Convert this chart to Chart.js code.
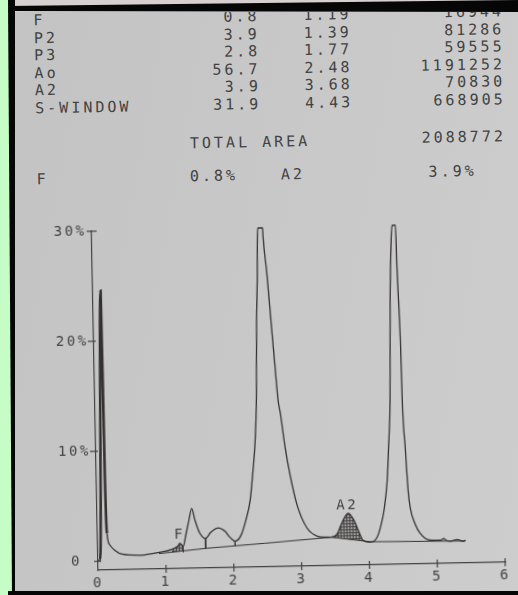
<!DOCTYPE html>
<html><head><meta charset="utf-8">
<script src="https://cdn.jsdelivr.net/npm/chart.js@4.4.0/dist/chart.umd.min.js"></script>
<style>
html,body{margin:0;padding:0;width:518px;height:595px;overflow:hidden;background:#c8c8c8;}
#paper{position:absolute;left:0;top:0;width:518px;height:595px;background:linear-gradient(100deg,#c3c3c3 0%,#c8c8c8 50%,#cdcdcd 100%);}
#rot{position:absolute;left:0;top:0;width:518px;height:595px;transform:rotate(-1.12deg);transform-origin:259px 300px;}
#chart{position:absolute;left:0;top:0;}
.t{position:absolute;font-family:"DejaVu Sans Mono",monospace;font-size:15px;letter-spacing:3px;color:#424242;line-height:15px;white-space:pre;}
.frame{position:absolute;background:#060606;}
</style></head>
<body>
<div id="paper"></div>
<div id="rot"><div id="header"></div><canvas id="chart" width="518" height="595"></canvas></div>
<div style="position:absolute;left:8px;top:0;width:510px;height:12px;background:#d6d0d0;"></div>
<div class="frame" style="left:8px;top:0;width:510px;height:12px;clip-path:polygon(0 6px,100% 0,100% 12px,0 11px);"></div>
<div style="position:absolute;left:0;top:0;width:12px;height:595px;background:#c6fcc6;"></div>
<div class="frame" style="left:8px;top:0;width:7px;height:595px;clip-path:polygon(0 0,100% 0,100% 100%,4px 100%);"></div>
<div class="frame" style="left:8px;top:591px;width:510px;height:4px;"></div>
<script>
// ---- report table ----
const peakNames = ['F','P2','P3','Ao','A2','S-WINDOW'];
const peakPercent = ['0.8','3.9','2.8','56.7','3.9','31.9'];
const retentionTimes = ['1.19','1.39','1.77','2.48','3.68','4.43'];
const peakAreas = ['16944','81286','59555','1191252','70830','668905'];
const totalAreaLabel = 'TOTAL AREA';
const totalArea = '2088772';
const summaryNames = ['F','A2'];
const summaryValues = ['0.8%','3.9%'];

// ---- chromatogram trace (time in min, signal in %) ----
const traceTime = [0,0.03,0.115,0.122,0.125,0.139,0.18,0.25,0.355,0.62,0.84,0.99,1.09,1.18,1.21,1.26,1.30,1.35,1.395,1.44,1.50,1.59,1.67,1.78,1.88,1.95,2.025,2.115,2.19,2.26,2.31,2.35,2.38,2.405,2.43,2.44,2.45,2.52,2.525,2.57,2.63,2.665,2.70,2.73,2.79,2.855,2.95,3.09,3.24,3.38,3.44,3.53,3.61,3.70,3.79,3.86,3.91,4.02,4.12,4.18,4.23,4.285,4.315,4.35,4.38,4.41,4.43,4.48,4.49,4.52,4.53,4.56,4.59,4.615,4.685,4.755,4.90,5.05,5.10,5.15,5.20,5.30,5.34,5.38,5.42];
const traceSignal = [0.1,0.1,24.6,14.6,7.4,2.55,1.45,0.98,0.61,0.48,0.64,0.80,0.97,1.24,1.5,1.23,2.22,3.58,4.64,3.57,2.47,1.88,2.45,2.83,2.51,1.96,1.59,2.12,3.48,5.29,8.0,10.7,14.4,21.4,25.9,28.9,30.0,30.0,29.2,25.9,20.4,17.3,14.3,13.1,10.0,7.5,4.75,2.65,1.9,1.79,1.78,2.05,3.13,3.94,3.2,2.1,1.45,1.26,1.7,2.78,4.15,6.86,9.86,14.1,23.2,28.4,30.0,30.0,26.2,19.3,14.1,9.83,5.92,4.37,2.82,1.99,1.34,1.32,1.45,1.25,1.21,1.35,1.28,1.18,1.27];

// integration baseline
const baselineTime = [0.90,1.61,2.47,3.44,4.02,5.42];
const baselineSignal = [0.60,1.00,1.35,1.78,1.30,1.20];

// peak drop lines
const dropTime = [1.26,1.59,2.025];
const dropTop = [1.23,1.88,1.59];
const dropBottom = [0.69,0.99,1.17];

// shaded peaks
const shadedStart = [1.09,3.44];
const shadedEnd = [1.26,4.02];

// peak labels on plot
const peakLabelText = ['F','A2'];
const peakLabelTime = [1.19,3.67];
const peakLabelSignal = [2.25,4.66];

// axes
const xTickValues = [0,1,2,3,4,5,6];
const yTickValues = [0,10,20,30];

// ---- header (HTML text) ----
const header = document.getElementById('header');
function addText(txt, css){ const d=document.createElement('div'); d.className='t'; d.textContent=txt; Object.assign(d.style, css); header.appendChild(d); }
const rowCenters = [16.5,34,51.5,69,86.5,104];
peakNames.forEach((n,i)=>{
  const top = (rowCenters[i]-7.5)+'px';
  addText(n,{left:'39px',top});
  addText(peakPercent[i],{right:'253px',top,textAlign:'right'});
  addText(retentionTimes[i],{right:'161px',top,textAlign:'right'});
  addText(peakAreas[i],{right:'8.5px',top,textAlign:'right'});
});
addText(totalAreaLabel,{left:'193px',top:'134.5px'});
addText(totalArea,{right:'9px',top:'133.5px',textAlign:'right'});
addText(summaryNames[0],{left:'39px',top:'168.2px'});
addText(summaryValues[0],{left:'192.3px',top:'168.2px'});
addText(summaryNames[1],{left:'283.4px',top:'168.2px'});
addText(summaryValues[1],{left:'431px',top:'168.2px'});

// ---- chart ----
const ink = '#353131';
const axisInk = '#444141';
const textInk = '#424242';
const FONT = '"DejaVu Sans Mono", monospace';

function hatch(){
  const c=document.createElement('canvas'); c.width=3; c.height=3;
  const g=c.getContext('2d');
  g.fillStyle='rgba(150,150,150,0.9)'; g.fillRect(0,0,3,3);
  g.fillStyle='#4a4646'; g.fillRect(0,0,3,1); g.fillRect(0,0,1,3);
  return g.createPattern(c,'repeat');
}
const pattern = hatch();

const trace = traceTime.map((t,i)=>({x:t,y:traceSignal[i]}));
const baseline = baselineTime.map((t,i)=>({x:t,y:baselineSignal[i]}));
const drops = [];
dropTime.forEach((t,i)=>{ drops.push({x:t,y:dropTop[i]},{x:t,y:dropBottom[i]},{x:t,y:null}); });
const shaded = shadedStart.map((s,i)=>trace.filter(p=>p.x>=s && p.x<=shadedEnd[i]));

const printer = {
  id:'printer',
  beforeDraw(chart){ chart.ctx.letterSpacing='2.6px'; },
  afterDraw(chart){
    const ctx=chart.ctx, x=chart.scales.x, y=chart.scales.y;
    ctx.save();
    ctx.strokeStyle=axisInk; ctx.lineWidth=1.2;
    const L=chart.chartArea.left, B=chart.chartArea.bottom;
    yTickValues.forEach(v=>{
      const py=y.getPixelForValue(v);
      const l = v===30?5:(v===0?4:6), r = v===30?5:(v===0?3:2);
      ctx.beginPath(); ctx.moveTo(L-l,py); ctx.lineTo(L+r,py); ctx.stroke();
    });
    xTickValues.forEach(v=>{
      if(v===0) return;
      const px=x.getPixelForValue(v);
      ctx.beginPath(); ctx.moveTo(px,B-4); ctx.lineTo(px,B+4); ctx.stroke();
    });
    ctx.font='14px '+FONT; ctx.fillStyle=textInk; ctx.textAlign='center'; ctx.textBaseline='middle';
    peakLabelText.forEach((t,i)=>ctx.fillText(t, x.getPixelForValue(peakLabelTime[i])+1.3, y.getPixelForValue(peakLabelSignal[i])));
    ctx.restore();
  }
};

new Chart(document.getElementById('chart'),{
  type:'line',
  data:{datasets:[
    {label:'trace',data:trace,borderColor:ink,borderWidth:1.3,pointRadius:0,cubicInterpolationMode:'monotone',fill:false,clip:4,
      segment:{borderWidth:c=>(c.p0DataIndex>=1 && c.p0DataIndex<=4)?2.6:1.3}},
    {label:'baseline',data:baseline,borderColor:ink,borderWidth:1,pointRadius:0,tension:0,fill:false},
    {label:'F area',data:shaded[0],borderWidth:0,borderColor:'rgba(0,0,0,0)',pointRadius:0,cubicInterpolationMode:'monotone',fill:1,backgroundColor:pattern},
    {label:'A2 area',data:shaded[1],borderWidth:0,borderColor:'rgba(0,0,0,0)',pointRadius:0,cubicInterpolationMode:'monotone',fill:1,backgroundColor:pattern},
    {label:'drops',data:drops,borderColor:ink,borderWidth:1,pointRadius:0,spanGaps:false,fill:false}
  ]},
  options:{
    responsive:false, animation:false, devicePixelRatio:1,
    layout:{padding:{left:0,top:228,right:18,bottom:0}},
    plugins:{legend:{display:false},tooltip:{enabled:false}},
    scales:{
      x:{type:'linear',min:0,max:6,
        afterFit:s=>{s.height=28;},
        afterBuildTicks:s=>{s.ticks=xTickValues.map(v=>({value:v}));},
        grid:{display:false,drawTicks:false},
        border:{display:true,color:axisInk,width:1.2},
        ticks:{padding:5,color:textInk,font:{family:FONT,size:14},maxRotation:0,autoSkip:false,callback:v=>String(v)}},
      y:{type:'linear',min:-0.8,max:30,
        afterFit:s=>{s.width=93;},
        afterBuildTicks:s=>{s.ticks=yTickValues.map(v=>({value:v}));},
        grid:{display:false,drawTicks:false},
        border:{display:true,color:axisInk,width:1.2},
        ticks:{padding:5,color:textInk,font:{family:FONT,size:14},autoSkip:false,callback:v=>v===0?'0 ':v+'%'}}
    }
  },
  plugins:[printer]
});
</script>
</body></html>
